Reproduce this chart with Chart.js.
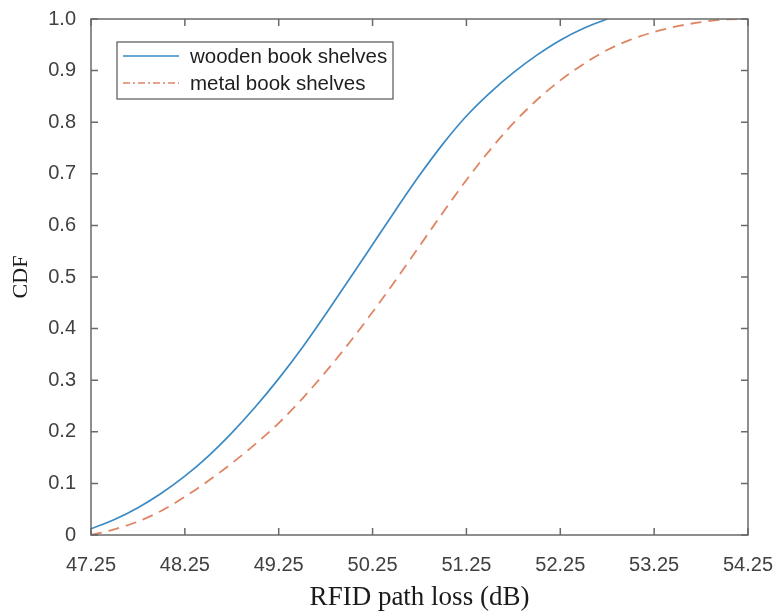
<!DOCTYPE html>
<html><head><meta charset="utf-8">
<script src="https://cdn.jsdelivr.net/npm/chart.js@4/dist/chart.umd.min.js"></script>
<style>html,body{margin:0;padding:0;background:#fff;}#wrap{width:777px;height:616px;}</style>
</head><body><div id="wrap"><canvas id="c" width="777" height="616"></canvas></div>
<script>
const seriesNames = ['wooden book shelves', 'metal book shelves'];
const woodenX   = [47.25,47.5,47.75,48.0,48.25,48.5,48.75,49.0,49.25,49.5,49.75,50.0,50.25,50.5,50.75,51.0,51.25,51.5,51.75,52.0,52.25,52.5,52.75];
const woodenCDF = [0.012,0.030,0.053,0.081,0.114,0.153,0.198,0.248,0.303,0.363,0.428,0.495,0.563,0.631,0.697,0.758,0.812,0.857,0.896,0.930,0.959,0.982,1.0];
const metalX   = [47.25,47.5,47.75,48.0,48.25,48.5,48.75,49.0,49.25,49.5,49.75,50.0,50.25,50.5,50.75,51.0,51.25,51.5,51.75,52.0,52.25,52.5,52.75,53.0,53.25,53.5,53.75,54.0,54.25];
const metalCDF = [0.0,0.011,0.026,0.047,0.074,0.105,0.139,0.176,0.217,0.264,0.316,0.372,0.432,0.495,0.560,0.625,0.688,0.746,0.798,0.843,0.881,0.913,0.940,0.960,0.975,0.986,0.994,0.999,1.0];
const xTicks = [47.25,48.25,49.25,50.25,51.25,52.25,53.25,54.25];
const yTicks = [0,0.1,0.2,0.3,0.4,0.5,0.6,0.7,0.8,0.9,1.0];
const xTitle = 'RFID path loss (dB)';
const yTitle = 'CDF';

const toPts = (xs, ys) => xs.map((x, i) => ({x: x, y: ys[i]}));
const BLUE = '#3b8ac4', ORANGE = '#df8563';
const legendDash = [[], [7, 3, 2, 3]];

const framePlugin = {
  id: 'frame',
  afterDraw(chart) {
    const ctx = chart.ctx, ca = chart.chartArea;
    const xs = chart.scales.x, ys = chart.scales.y;
    ctx.save();
    ctx.strokeStyle = '#6a6a6a';
    ctx.lineWidth = 1.5;
    ctx.setLineDash([]);
    ctx.strokeRect(ca.left, ca.top, ca.right - ca.left, ca.bottom - ca.top);
    const L = 7;
    ctx.beginPath();
    xTicks.forEach(v => {
      const p = xs.getPixelForValue(v);
      ctx.moveTo(p, ca.bottom); ctx.lineTo(p, ca.bottom - L);
      ctx.moveTo(p, ca.top); ctx.lineTo(p, ca.top + L);
    });
    yTicks.forEach(v => {
      const p = ys.getPixelForValue(v);
      ctx.moveTo(ca.left, p); ctx.lineTo(ca.left + L, p);
      ctx.moveTo(ca.right, p); ctx.lineTo(ca.right - L, p);
    });
    ctx.stroke();
    // legend
    const x0 = ca.left + 26, y0 = ca.top + 23, w = 276, h = 57;
    ctx.fillStyle = '#fff';
    ctx.fillRect(x0, y0, w, h);
    ctx.strokeStyle = '#555';
    ctx.lineWidth = 1.2;
    ctx.strokeRect(x0, y0, w, h);
    ctx.font = '20.5px "Liberation Sans", Arial, sans-serif';
    ctx.textBaseline = 'middle';
    ctx.textAlign = 'left';
    chart.data.datasets.forEach((ds, i) => {
      const yy = y0 + 14 + i * 27;
      ctx.strokeStyle = ds.borderColor;
      ctx.lineWidth = 1.7;
      ctx.setLineDash(legendDash[i]);
      ctx.beginPath(); ctx.moveTo(x0 + 6, yy); ctx.lineTo(x0 + 62, yy); ctx.stroke();
      ctx.setLineDash([]);
      ctx.fillStyle = '#1e1e1e';
      ctx.fillText(ds.label, x0 + 73, yy + 1);
    });
    ctx.restore();
  }
};

new Chart(document.getElementById('c'), {
  type: 'line',
  data: {
    datasets: [
      { label: seriesNames[0], data: toPts(woodenX, woodenCDF), borderColor: BLUE, borderWidth: 1.7,
        pointRadius: 0, cubicInterpolationMode: 'monotone', fill: false },
      { label: seriesNames[1], data: toPts(metalX, metalCDF), borderColor: ORANGE, borderWidth: 1.8,
        borderDash: [11, 7], pointRadius: 0, cubicInterpolationMode: 'monotone', fill: false }
    ]
  },
  options: {
    responsive: false,
    devicePixelRatio: 1,
    animation: false,
    layout: { padding: { top: 19, right: 29, bottom: 0, left: 0 } },
    plugins: { legend: { display: false }, tooltip: { enabled: false } },
    scales: {
      x: {
        type: 'linear', min: 47.25, max: 54.25,
        grid: { display: false }, border: { display: false },
        afterBuildTicks: s => { s.ticks = xTicks.map(v => ({ value: v })); },
        afterFit: s => { s.height = 81; s.paddingLeft = 0; s.paddingRight = 0; },
        ticks: { autoSkip: false, maxRotation: 0, padding: 10, color: '#404040',
          font: { family: '"Liberation Sans", Arial, sans-serif', size: 20 },
          callback: v => Number(v).toFixed(2) },
        title: { display: true, text: xTitle, color: '#1a1a1a',
          font: { family: '"Liberation Serif", "Times New Roman", serif', size: 27 },
          padding: { top: 0, bottom: 2 } }
      },
      y: {
        type: 'linear', min: 0, max: 1,
        grid: { display: false }, border: { display: false },
        afterBuildTicks: s => { s.ticks = yTicks.map(v => ({ value: v })); },
        afterFit: s => { s.width = 91; s.paddingTop = 0; s.paddingBottom = 0; },
        ticks: { padding: 7, color: '#404040',
          font: { family: '"Liberation Sans", Arial, sans-serif', size: 20 },
          callback: v => (v === 0 ? '0' : Number(v).toFixed(1)) },
        title: { display: true, text: yTitle, color: '#1a1a1a',
          font: { family: '"Liberation Serif", "Times New Roman", serif', size: 22 },
          padding: { top: 8, bottom: 0 } }
      }
    }
  },
  plugins: [framePlugin]
});
</script></body></html>
